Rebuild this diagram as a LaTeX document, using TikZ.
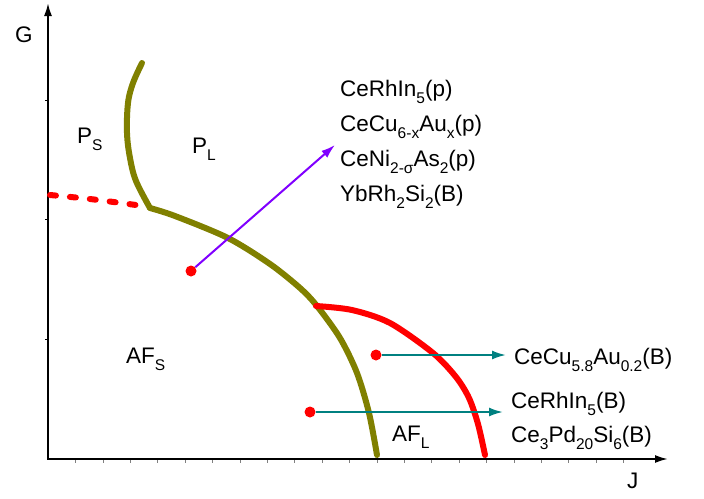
\documentclass[tikz,border=0pt]{standalone}
\usepackage{fontspec}
\setmainfont{Liberation Sans}
\usepackage{tikz}
\usetikzlibrary{positioning}
\usetikzlibrary{arrows.meta}

\definecolor{phaseolive}{RGB}{128,128,0}
\definecolor{pathteal}{RGB}{0,128,128}
\definecolor{pathviolet}{RGB}{128,0,255}

\newcommand{\lowsub}[1]{\raisebox{-7pt}{\fontsize{15.5}{15.5}\selectfont #1}}

\begin{document}
\begin{tikzpicture}[x=1pt, y=-1pt,
    lbl/.style={inner sep=0pt, anchor=base west, font=\fontsize{22.5}{26}\selectfont},
    axisline/.style={line width=2pt, -{Latex[length=13pt, width=8pt]}},
    olivecurve/.style={phaseolive, line width=6pt, line cap=round, line join=round},
    redcurve/.style={red, line width=6pt, line cap=round},
    dot/.style={circle, fill=red, inner sep=0pt, minimum size=11pt},
    tealarrow/.style={pathteal, line width=2pt, -{Latex[length=14pt, width=9pt]}},
    violetarrow/.style={pathviolet, line width=2pt, -{Latex[length=14pt, width=9pt]}}]
    \useasboundingbox (0,0) rectangle (704,498);

    % axes
    \coordinate (origin) at (48,459);
    \coordinate (gtop) at (48,3);
    \coordinate (jtip) at (668,459);
    \draw[axisline] (origin) -- (gtop);
    \draw[axisline] ([xshift=-1pt]origin) -- (jtip);
    \foreach \k in {1,...,21}
        \draw[gray, line width=0.6pt] (48+27.4*\k,460) -- ++(0,2.5);
    \foreach \k in {1,2,3}
        \draw[line width=0.8pt] (48,459-119.7*\k) -- ++(-3,0);
    \node[lbl] (labg) at (15,42) {G};
    \node[lbl] (labj) at (627,488) {J};

    % phase boundaries
    \draw[red, line width=6pt, line cap=round, dash pattern=on 6pt off 14pt]
        plot[smooth] coordinates {(50,195) (90,199) (136,205)};
    \draw[olivecurve] plot[smooth, tension=0.6] coordinates
        {(142,63) (133,83) (128,103) (127,133) (130,158) (136,181) (150,208)};
    \draw[olivecurve] plot[smooth] coordinates
        {(150,208) (175,216) (228,238) (270,264) (300,288) (317,306) (340,338) (357,373) (369,413) (377,455)};
    \draw[redcurve] plot[smooth] coordinates
        {(316,306) (352,310) (390,323) (433,353) (456,377) (469,398) (478,424) (485,455)};

    % regions
    \node[lbl] (regps) at (77,143) {P\lowsub{S}};
    \node[lbl] (regpl) at (192,153) {P\lowsub{L}};
    \node[lbl] (regafs) at (126,363) {AF\lowsub{S}};
    \node[lbl] (regafl) at (392,441) {AF\lowsub{L}};

    % paths
    \node[dot] (dotp) at (191,271) {};
    \node[dot] (dotcu) at (376,355) {};
    \node[dot] (dotrh) at (310,412) {};
    \coordinate (endp) at (335,145);
    \coordinate (endcu) at (506,355);
    \coordinate (endrh) at (503,412);
    \draw[violetarrow] (dotp) -- (endp);
    \draw[tealarrow] (dotcu) -- (endcu);
    \draw[tealarrow] (dotrh) -- (endrh);

    % materials
    \node[lbl] (lblrhp) at (340,96) {CeRhIn\lowsub{5}(p)};
    \node[lbl, below=35.3pt of lblrhp.base west, anchor=base west] (lblcup) {CeCu\lowsub{6-x}Au\lowsub{x}(p)};
    \node[lbl, below=35.3pt of lblcup.base west, anchor=base west] (lblnip) {CeNi\lowsub{2-σ}As\lowsub{2}(p)};
    \node[lbl, below=35.3pt of lblnip.base west, anchor=base west] (lblybb) {YbRh\lowsub{2}Si\lowsub{2}(B)};
    \node[lbl] (lblcub) at (514,364) {CeCu\lowsub{5.8}Au\lowsub{0.2}(B)};
    \node[lbl] (lblrhb) at (511,408) {CeRhIn\lowsub{5}(B)};
    \node[lbl, below=34pt of lblrhb.base west, anchor=base west] (lblpdb) {Ce\lowsub{3}Pd\lowsub{20}Si\lowsub{6}(B)};
\end{tikzpicture}
\end{document}
